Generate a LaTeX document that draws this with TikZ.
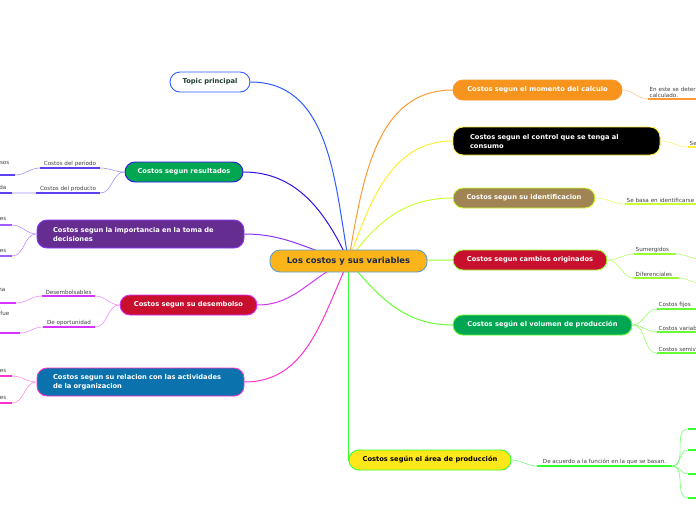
\documentclass[tikz,border=0pt]{standalone}
\usepackage{fontspec}
\setmainfont{DejaVu Sans}
\usetikzlibrary{backgrounds}
\definecolor{rootfill}{HTML}{FBB41A}
\definecolor{rootline}{HTML}{5B9BD5}
\definecolor{roottext}{HTML}{1B2A4A}
\definecolor{topicline}{HTML}{2F5BFF}
\definecolor{topictext}{HTML}{1E3D2F}
\definecolor{resline}{HTML}{3311EE}
\definecolor{impline}{HTML}{8A33FF}
\definecolor{desline}{HTML}{D633FF}
\definecolor{relline}{HTML}{FF33CC}
\definecolor{momline}{HTML}{FF9933}
\definecolor{ctrlline}{HTML}{FFEE33}
\definecolor{identline}{HTML}{CCFF33}
\definecolor{cambline}{HTML}{99FF33}
\definecolor{volline}{HTML}{66FF33}
\definecolor{arealine}{HTML}{33FF33}
\definecolor{verde}{HTML}{00A651}
\definecolor{morado}{HTML}{662D91}
\definecolor{carmin}{HTML}{C8102E}
\definecolor{azul}{HTML}{0B72AE}
\definecolor{naranja}{HTML}{F7941D}
\definecolor{cafe}{HTML}{A08454}
\definecolor{amarillo}{HTML}{FFE81A}
\tikzset{
  branch/.style={rounded corners=10pt, line width=0.9pt, minimum height=20pt, inner xsep=6pt,
    text=white, font=\bfseries\fontsize{6.7}{9}\selectfont},
  twoline/.style={minimum height=28pt, inner xsep=16pt, text width=175pt, align=left},
  leaf/.style={font=\fontsize{5.6}{6.2}\selectfont, text=black!75, inner sep=1.5pt},
  link/.style={line width=1pt},
  twig/.style={line width=0.6pt},
  bar/.style={line width=1.8pt}
}
\begin{document}
\begin{tikzpicture}[x=1pt,y=-1pt]
        \clip (0,0) rectangle (696,520);
        % centro y ramas
        \node[branch, fill=rootfill, draw=rootline, text=roottext, minimum width=157pt, minimum height=22pt,
          font=\bfseries\fontsize{8.4}{9}\selectfont] (root) at (348.5,261) {Los costos y sus variables};
        \node[branch, fill=white, draw=topicline, text=topictext, minimum width=80pt] (topic) at (210,82) {Topic principal};
        \node[branch, fill=verde, draw=resline, minimum width=118pt] (res) at (184,172) {Costos segun resultados};
        \node[branch, twoline, fill=morado, draw=impline] (imp) at (140.5,234) {Costos segun la importancia en la toma de\\decisiones};
        \node[branch, fill=carmin, draw=desline, minimum width=137pt] (des) at (188.5,305) {Costos segun su desembolso};
        \node[branch, twoline, fill=azul, draw=relline] (rel) at (140.5,382) {Costos segun su relacion con las actividades\\de la organizacion};
        \node[branch, fill=naranja, draw=momline!60!naranja, minimum width=169pt] (mom) at (537.5,90) {Costos segun el momento del calculo};
        \node[branch, twoline, fill=black, draw=ctrlline, inner xsep=17pt, text width=173pt] (ctrl) at (556.5,141) {Costos segun el control que se tenga al\\consumo};
        \node[branch, fill=cafe, draw=identline, minimum width=142pt] (ident) at (524,198) {Costos segun su identificacion};
        \node[branch, fill=carmin, draw=cambline, minimum width=154pt] (camb) at (530,260) {Costos segun cambios originados};
        \node[branch, fill=verde, draw=volline, minimum width=179pt] (vol) at (542.5,325) {Costos según el volumen de producción};
        \node[branch, fill=amarillo, draw=arealine, text=black, minimum width=162pt] (area) at (430,460) {Costos según el área de producción};

        % hojas izquierda
        \node[leaf, anchor=south, minimum width=60pt] (peri) at (70,168) {Costos del periodo};
        \node[leaf, anchor=south, minimum width=64pt] (prod) at (68,193) {Costos del producto};
        \node[leaf, anchor=east] (resA) at (11,163) {esos};
        \node[leaf, anchor=east] (resB) at (8,187) {da};
        \coordinate (resAe) at (15,175);
        \coordinate (resBe) at (12,193);
        \node[leaf, anchor=east] (impA) at (8,219) {ces};
        \node[leaf, anchor=east] (impB) at (8,250) {les};
        \coordinate (impAe) at (12,225);
        \coordinate (impBe) at (12,256);
        \node[leaf, anchor=south, minimum width=53pt] (dese) at (68.5,296) {Desembolsables};
        \node[leaf, anchor=south, minimum width=52pt] (opor) at (69,327) {De oportunidad};
        \node[leaf, anchor=east] (desA) at (7,290) {na};
        \node[leaf, anchor=east] (desB) at (11,313) {fue};
        \coordinate (desAe) at (16,303);
        \coordinate (desBe) at (20,333);
        \node[leaf, anchor=east] (relA) at (8,370) {les};
        \node[leaf, anchor=east] (relB) at (8,397) {les};
        \coordinate (relAe) at (12,376);
        \coordinate (relBe) at (12,403);

        % hojas derecha
        \node[leaf, anchor=south west, text width=150pt, align=left] (calc) at (648,99) {En este se determina el momento\\calculado.};
        \node[leaf, anchor=south west, text width=40pt, align=left, xshift=2pt] (cons) at (686,147) {Se};
        \node[leaf, anchor=south west, text width=90pt, align=left] (basa) at (625,204) {Se basa en identificarse con};
        \node[leaf, anchor=south west, text width=39pt, align=left] (sume) at (634,254) {Sumergidos};
        \node[leaf, anchor=south west, text width=42pt, align=left] (dife) at (634,278) {Diferenciales};
        \coordinate (sumee) at (700,259);
        \coordinate (difee) at (700,283);
        \node[leaf, anchor=south west, text width=60pt, align=left] (fijo) at (657,309) {Costos fijos};
        \node[leaf, anchor=south west, text width=60pt, align=left] (vari) at (657,332) {Costos variables};
        \node[leaf, anchor=south west, text width=60pt, align=left] (semi) at (657,353) {Costos semivariables};
        \node[leaf, anchor=south, minimum width=135pt] (func) at (604.5,466) {De acuerdo a la función en la que se basan.};
        \coordinate (fA) at (688,429);
        \coordinate (fB) at (688,450);
        \coordinate (fC) at (688,474);
        \coordinate (fD) at (688,498);

        \begin{scope}[on background layer]
        \draw[link, topicline] (root.center) to[out=100,in=0] (topic.east);
        \draw[link, resline] (root.center) to[out=115,in=0] (res.east);
        \draw[link, impline] (root.center) to[out=165,in=0] (imp.east);
        \draw[link, desline] (root.center) to[out=200,in=0] (des.east);
        \draw[link, relline] (root.center) to[out=245,in=0] (rel.east);
        \draw[link, momline] (root.center) to[out=80,in=180] (mom.west);
        \draw[link, ctrlline] (root.center) to[out=70,in=180] (ctrl.west);
        \draw[link, identline] (root.center) to[out=55,in=180] (ident.west);
        \draw[link, cambline] (root.center) -- (camb.west);
        \draw[link, volline] (root.center) to[out=-50,in=180] (vol.west);
        \draw[link, arealine] (root.center) |- (area.west);
        \end{scope}

        % subramas
        \draw[twig, resline!45] (res.west) to[out=180,in=0] (peri.south east) (res.west) to[out=180,in=0] (prod.south east)
          (peri.south west) to[out=180,in=0] (resAe) (prod.south west) -- (resBe);
        \draw[bar, resline!80] (peri.south west) -- (peri.south east) (prod.south west) -- (prod.south east)
          (resAe) -- ++(-20,0) (resBe) -- ++(-20,0);
        \draw[twig, impline!55] (imp.west) to[out=180,in=0] (impAe) (imp.west) to[out=180,in=0] (impBe);
        \draw[bar, impline!80] (impAe) -- ++(-20,0) (impBe) -- ++(-20,0);
        \draw[twig, desline!55] (des.west) to[out=180,in=0] (dese.south east) (des.west) to[out=180,in=0] (opor.south east)
          (dese.south west) to[out=180,in=0] (desAe) (opor.south west) to[out=180,in=0] (desBe);
        \draw[bar, desline] (dese.south west) -- (dese.south east) (opor.south west) -- (opor.south east)
          (desAe) -- ++(-20,0) (desBe) -- ++(-25,0);
        \draw[twig, relline!55] (rel.west) to[out=180,in=0] (relAe) (rel.west) to[out=180,in=0] (relBe);
        \draw[bar, relline] (relAe) -- ++(-20,0) (relBe) -- ++(-20,0);

        \draw[twig, momline!55] (mom.east) to[out=0,in=180] (calc.south west);
        \draw[bar, momline] (calc.south west) -- (calc.south east);
        \draw[twig, ctrlline!70] (ctrl.east) to[out=0,in=180] (cons.south west);
        \draw[bar, ctrlline] (cons.south west) -- (cons.south east);
        \draw[twig, identline!70] (ident.east) to[out=0,in=180] (basa.south west);
        \draw[bar, identline] (basa.south west) -- (basa.south east);
        \draw[twig, cambline!70] (camb.east) to[out=0,in=180] (sume.south west) (camb.east) to[out=0,in=180] (dife.south west)
          (sume.south east) to[out=0,in=180] (sumee) (dife.south east) to[out=0,in=180] (difee);
        \draw[bar, cambline] (sume.south west) -- (sume.south east) (dife.south west) -- (dife.south east);
        \draw[twig, volline!70] (vol.east) to[out=0,in=180] (fijo.south west) (vol.east) to[out=0,in=180] (vari.south west)
          (vol.east) to[out=0,in=180] (semi.south west);
        \draw[bar, volline] (fijo.south west) -- (fijo.south east) (vari.south west) -- (vari.south east) (semi.south west) -- (semi.south east);
        \draw[twig, arealine!70] (area.east) to[out=0,in=180] (func.south west);
        \draw[bar, arealine] (func.south west) -- (func.south east);
        \foreach \f in {fA,fB,fC,fD} {
          \draw[twig, arealine!70] (func.south east) to[out=0,in=180] (\f);
          \draw[bar, arealine] (\f) -- ++(12,0);
        }
\end{tikzpicture}
\end{document}
